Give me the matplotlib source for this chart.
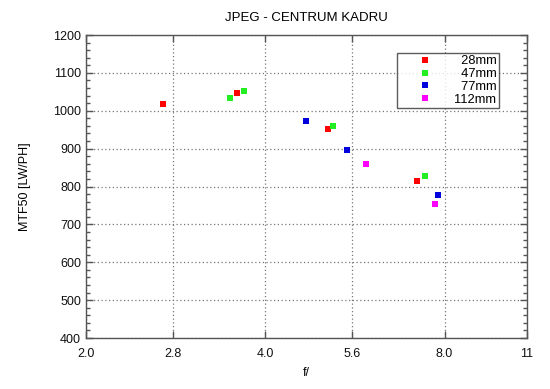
import matplotlib.pyplot as plt
from matplotlib.ticker import FixedLocator, FixedFormatter, MultipleLocator, NullLocator

plt.rcParams['font.family'] = ['Liberation Sans', 'DejaVu Sans']

# dane
f_28 = [2.69, 3.59, 5.09, 7.20]
mtf_28 = [1018, 1046, 953, 815]
f_47 = [3.49, 3.69, 5.20, 7.41]
mtf_47 = [1035, 1053, 960, 829]
f_77 = [4.69, 5.49, 7.81]
mtf_77 = [973, 897, 777]
f_112 = [5.90, 7.71]
mtf_112 = [860, 754]

serie = [
    (f_28, mtf_28, '#ff0000', '28mm'),
    (f_47, mtf_47, '#22ee22', '47mm'),
    (f_77, mtf_77, '#0000dd', '77mm'),
    (f_112, mtf_112, '#ff00ff', '112mm'),
]

xticks = [2.0, 2.8, 4.0, 5.6, 8.0, 11]
xlabels = ['2.0', '2.8', '4.0', '5.6', '8.0', '11']

fig = plt.figure(figsize=(5.5, 3.89), dpi=100)
ax = fig.add_axes([0.1564, 0.1311, 0.8016, 0.7789])

for fx, my, kolor, nazwa in serie:
    ax.plot(fx, my, linestyle='none', marker='s', markersize=4.2,
            color=kolor, markeredgewidth=0, label=nazwa)

ax.set_xscale('log')
ax.set_xlim(2.0, 11)
ax.set_ylim(400, 1200)
ax.xaxis.set_major_locator(FixedLocator(xticks))
ax.xaxis.set_major_formatter(FixedFormatter(xlabels))
ax.xaxis.set_minor_locator(NullLocator())
ax.yaxis.set_major_locator(MultipleLocator(100))
ax.yaxis.set_minor_locator(MultipleLocator(20))

ax.tick_params(which='both', direction='in', top=True, right=True,
               colors='#555555', labelcolor='#111111', labelsize=9)
ax.tick_params(which='major', length=5, width=1)
ax.tick_params(which='minor', length=3, width=1)
ax.tick_params(axis='x', pad=7)

for s in ax.spines.values():
    s.set_color('#555555')
    s.set_linewidth(1)

ax.grid(True, which='major', linestyle=(0, (1, 2)), color='#777777', linewidth=0.9)

ax.set_title('JPEG - CENTRUM KADRU', fontsize=9.5, pad=10)
ax.set_xlabel('f/', fontsize=9, labelpad=5)
ax.set_ylabel('MTF50 [LW/PH]', fontsize=9, labelpad=16)

pad = '\u2007'
etykiety = [pad + '28mm', pad + '47mm', pad + '77mm', '112mm']
h, _ = ax.get_legend_handles_labels()
leg = ax.legend(h, etykiety, loc='upper right', bbox_to_anchor=(0.937, 0.942),
                fontsize=9.3, frameon=True, fancybox=False, handlelength=3.9,
                handletextpad=0.3, borderpad=0.2, labelspacing=0.06,
                borderaxespad=0)
leg.get_frame().set_edgecolor('#333333')
leg.get_frame().set_linewidth(1)

plt.savefig('out.png', dpi=100)
